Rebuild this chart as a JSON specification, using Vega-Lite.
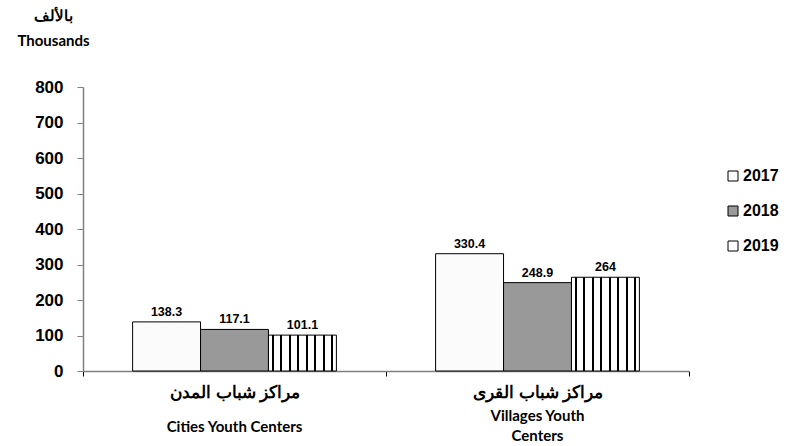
{
  "$schema": "https://vega.github.io/schema/vega-lite/v6.json",
  "width": 606,
  "height": 284,
  "autosize": "none",
  "padding": {"left": 83, "top": 87, "right": 103, "bottom": 75},
  "background": "white",
  "config": {
    "view": {"stroke": null},
    "font": "Liberation Sans",
    "axisY": {
      "titleAngle": 0, "titleAlign": "center", "titleBaseline": "top", "titleX": -30, "titleY": -79, "titleLineHeight": 25,
      "titleFont": "Lato", "titleFontSize": 15, "titleFontWeight": "bold", "titleColor": "black",
      "grid": false, "labelOverlap": false,
      "labelFont": "Liberation Sans", "labelFontWeight": "bold", "labelFontSize": 17, "labelColor": "black",
      "labelPadding": 14, "tickSize": 6, "tickColor": "#808080", "domainColor": "#808080", "domainWidth": 1.5
    }
  },
  "data": {"values": [
    {"center": "Cities", "year": "2017", "value": 138.3},
    {"center": "Cities", "year": "2018", "value": 117.1},
    {"center": "Cities", "year": "2019", "value": 101.1},
    {"center": "Villages", "year": "2017", "value": 330.4},
    {"center": "Villages", "year": "2018", "value": 248.9},
    {"center": "Villages", "year": "2019", "value": 264}
  ]},
  "resolve": {"axis": {"x": "independent"}},
  "layer": [
    {
      "mark": {"type": "bar", "stroke": "black", "strokeWidth": 1},
      "encoding": {
        "x": {"field": "center", "type": "nominal", "sort": ["Cities", "Villages"],
          "scale": {"paddingInner": 0, "paddingOuter": 0},
          "axis": {"title": null, "labelAngle": 0, "orient": "bottom",
            "labelExpr": "datum.value == 'Cities' ? 'مراكز شباب المدن' : (datum.value == 'Villages' ? 'مراكز شباب القرى' : '')",
            "labelFont": "Liberation Sans", "labelFontWeight": "bold", "labelFontSize": 16.5, "labelColor": "black",
            "labelBaseline": "top", "labelPadding": 8, "tickBand": "extent", "tickSize": 5, "tickColor": "black",
            "domainColor": "#808080", "domainWidth": 1.5}},
        "xOffset": {"field": "year", "type": "nominal", "sort": ["2017", "2018", "2019"],
          "scale": {"paddingInner": 0, "paddingOuter": 0.73}},
        "y": {"field": "value", "type": "quantitative",
          "scale": {"domain": [0, 800]},
          "axis": {"title": ["بالألف", "Thousands"], "values": [0, 100, 200, 300, 400, 500, 600, 700, 800]}},
        "fill": {
          "condition": {"test": "datum.year === '2019'", "value": {
            "gradient": "linear", "x1": 0, "y1": 0, "x2": 1, "y2": 0,
            "stops": [
              {"offset": 0, "color": "white"},
              {"offset": 0.051, "color": "white"}, {"offset": 0.051, "color": "black"}, {"offset": 0.079, "color": "black"}, {"offset": 0.079, "color": "white"},
              {"offset": 0.176, "color": "white"}, {"offset": 0.176, "color": "black"}, {"offset": 0.204, "color": "black"}, {"offset": 0.204, "color": "white"},
              {"offset": 0.301, "color": "white"}, {"offset": 0.301, "color": "black"}, {"offset": 0.329, "color": "black"}, {"offset": 0.329, "color": "white"},
              {"offset": 0.426, "color": "white"}, {"offset": 0.426, "color": "black"}, {"offset": 0.454, "color": "black"}, {"offset": 0.454, "color": "white"},
              {"offset": 0.551, "color": "white"}, {"offset": 0.551, "color": "black"}, {"offset": 0.579, "color": "black"}, {"offset": 0.579, "color": "white"},
              {"offset": 0.676, "color": "white"}, {"offset": 0.676, "color": "black"}, {"offset": 0.704, "color": "black"}, {"offset": 0.704, "color": "white"},
              {"offset": 0.801, "color": "white"}, {"offset": 0.801, "color": "black"}, {"offset": 0.829, "color": "black"}, {"offset": 0.829, "color": "white"},
              {"offset": 0.926, "color": "white"}, {"offset": 0.926, "color": "black"}, {"offset": 0.954, "color": "black"}, {"offset": 0.954, "color": "white"},
              {"offset": 1, "color": "white"}
            ]}},
          "field": "year", "type": "nominal",
          "scale": {"domain": ["2017", "2018", "2019"], "range": ["#fbfbfb", "#999999", "#ffffff"]},
          "legend": {"title": null, "orient": "none", "legendX": 642, "legendY": 81,
            "symbolType": "square", "symbolSize": 100, "symbolStrokeColor": "black", "symbolStrokeWidth": 1,
            "labelFont": "Liberation Sans", "labelFontWeight": "bold", "labelFontSize": 16, "labelColor": "black",
            "labelOffset": 2, "rowPadding": 19, "padding": 0}
        }
      }
    },
    {
      "mark": {"type": "text", "baseline": "bottom", "dy": -3, "fontWeight": "bold", "fontSize": 12.5, "font": "Liberation Sans", "color": "black"},
      "encoding": {
        "x": {"field": "center", "type": "nominal", "sort": ["Cities", "Villages"],
          "scale": {"paddingInner": 0, "paddingOuter": 0},
          "axis": {"title": null, "labelAngle": 0, "orient": "bottom", "domain": false, "ticks": false,
            "labelExpr": "datum.value == 'Cities' ? 'Cities Youth Centers' : (datum.value == 'Villages' ? ['Villages Youth', 'Centers'] : '')",
            "labelFont": "Lato", "labelFontWeight": "bold", "labelFontSize": 15, "labelColor": "black",
            "labelBaseline": "top", "labelLineHeight": 20,
            "labelPadding": {"condition": {"test": "datum.value == 'Cities'", "value": 48}, "value": 37}}},
        "xOffset": {"field": "year", "type": "nominal", "sort": ["2017", "2018", "2019"],
          "scale": {"paddingInner": 0, "paddingOuter": 0.73}},
        "y": {"field": "value", "type": "quantitative",
          "scale": {"domain": [0, 800]},
          "axis": {"title": ["بالألف", "Thousands"], "values": [0, 100, 200, 300, 400, 500, 600, 700, 800]}},
        "text": {"field": "value", "type": "quantitative"}
      }
    }
  ]
}
